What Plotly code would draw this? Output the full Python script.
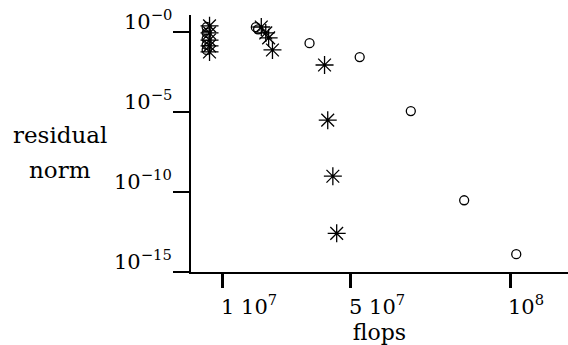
import plotly.graph_objects as go
import math

# circle series ("o")
circ_flops = [4.9e6, 4.9e6, 4.9e6, 4.9e6, 4.9e6, 2.03e7, 2.10e7, 3.71e7, 5.28e7, 6.88e7, 8.55e7, 1.018e8]
circ_resid = [1.95, 0.83, 0.35, 0.15, 0.072, 1.9, 1.4, 0.19, 0.026, 1.1e-5, 3.0e-11, 1.3e-14]

# asterisk series ("*")
ast_flops = [5.8e6, 5.8e6, 5.8e6, 5.8e6, 5.8e6, 2.2e7, 2.34e7, 2.43e7, 2.55e7, 4.18e7, 4.28e7, 4.44e7, 4.56e7]
ast_resid = [2.3, 0.83, 0.30, 0.13, 0.054, 1.95, 0.83, 0.41, 0.072, 8.3e-3, 3.0e-6, 9.5e-10, 2.6e-13]

x_tickvals = [1e7, 5e7, 1e8]
x_ticktext = ["1 10<sup>7</sup>", "5 10<sup>7</sup>", "10<sup>8</sup>"]
y_tickvals = [1, 1e-5, 1e-10, 1e-15]
y_ticktext = ["10<sup>\u22120</sup>", "10<sup>\u22125</sup>", "10<sup>\u221210</sup>", "10<sup>\u221215</sup>"]

FONT = "DejaVu Serif"

fig = go.Figure()
fig.add_trace(go.Scatter(
    x=circ_flops, y=circ_resid, mode="markers",
    marker=dict(symbol="circle-open", size=9, color="black", line=dict(width=1.3, color="black")),
    showlegend=False))
fig.add_trace(go.Scatter(
    x=ast_flops, y=ast_resid, mode="markers",
    marker=dict(symbol="asterisk-open", size=15, color="black", line=dict(width=1.3, color="black")),
    showlegend=False))

annotations = []
for v, t in zip(y_tickvals, y_ticktext):
    annotations.append(dict(
        text=t, xref="paper", yref="y", x=-0.045, y=math.log10(v),
        xanchor="right", yanchor="bottom", yshift=-4, showarrow=False,
        font=dict(family=FONT, size=21)))
for txt, yy in [("residual", 0.535), ("norm", 0.395)]:
    annotations.append(dict(
        text=txt, xref="paper", yref="paper",
        x=-0.347, y=yy, xanchor="center", yanchor="middle",
        showarrow=False, font=dict(family=FONT, size=23)))
for v, t in zip(x_tickvals, x_ticktext):
    annotations.append(dict(
        text=t, xref="x", yref="paper", x=v, y=0, yshift=-17,
        xanchor="left", yanchor="top", xshift=-4, showarrow=False,
        font=dict(family=FONT, size=21)))

fig.update_layout(
    width=568, height=345,
    margin=dict(l=191, r=0, t=15, b=73),
    paper_bgcolor="white", plot_bgcolor="white",
    font=dict(family=FONT, size=21, color="black"),
    xaxis=dict(
        range=[0, 11.8e7], showgrid=False, zeroline=False, automargin=False,
        showline=True, linecolor="black", linewidth=2,
        ticks="outside", ticklen=14, tickwidth=2.5, tickcolor="black",
        tickvals=x_tickvals, showticklabels=False,
        title=dict(text="flops", standoff=43, font=dict(family=FONT, size=22)),
    ),
    yaxis=dict(
        type="log", range=[-15, 1.04], showgrid=False, zeroline=False, automargin=False,
        showline=True, linecolor="black", linewidth=2,
        ticks="outside", ticklen=16, tickwidth=2, tickcolor="black",
        tickvals=y_tickvals, showticklabels=False,
    ),
    shapes=[dict(type="line", xref="paper", yref="paper", x0=-0.043, x1=0, y0=0, y1=0,
                 line=dict(color="black", width=2))],
    annotations=annotations,
)

fig.write_html("out.html", post_script="document.body.style.margin='0';",
               config={"displayModeBar": False})
